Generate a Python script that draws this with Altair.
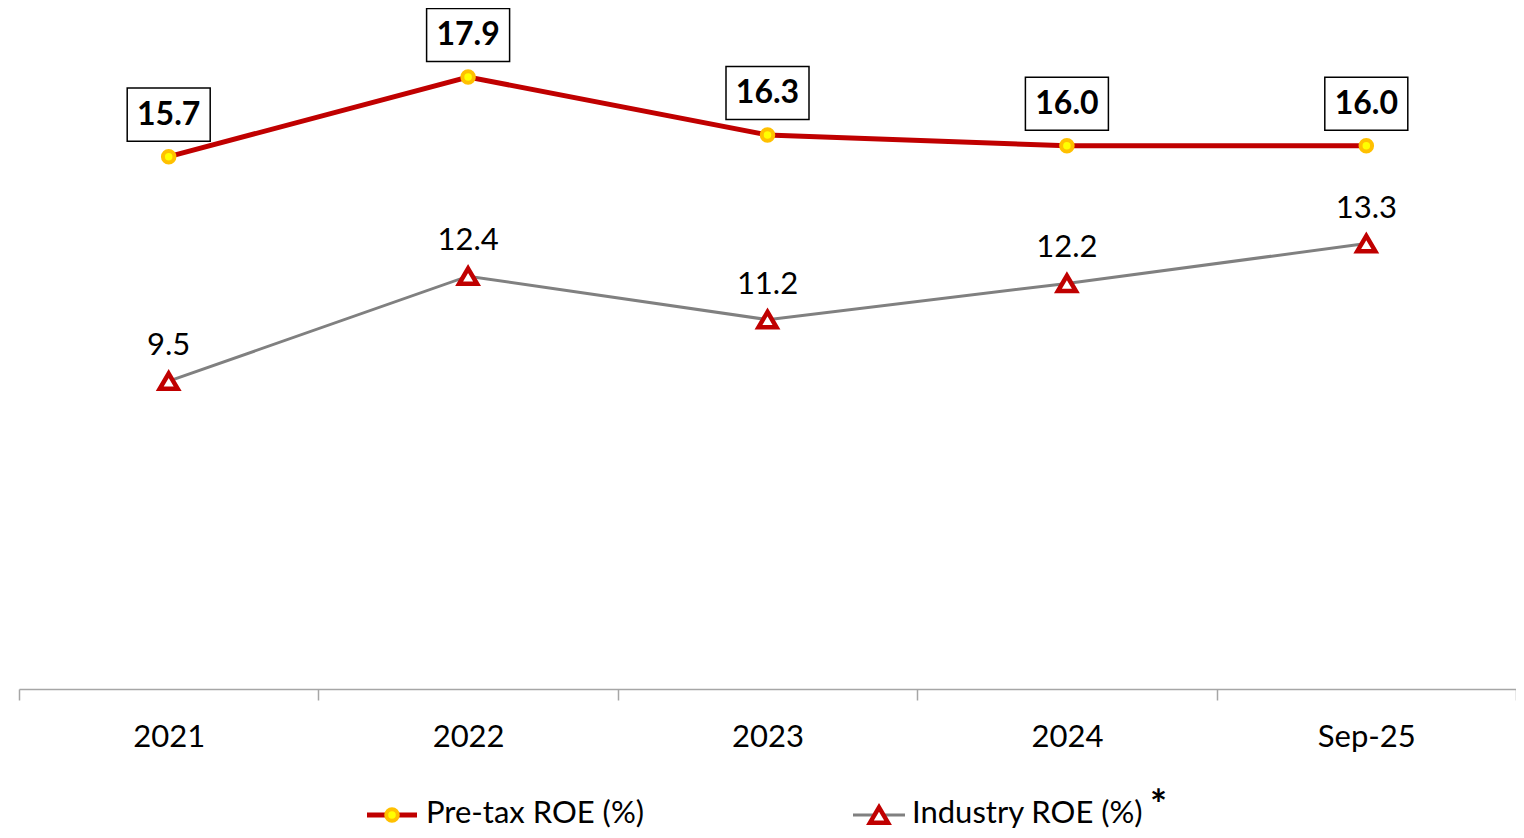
import altair as alt
import pandas as pd

categories = ["2021", "2022", "2023", "2024", "Sep-25"]
pretax_roe = [15.7, 17.9, 16.3, 16.0, 16.0]
industry_roe = [9.5, 12.4, 11.2, 12.2, 13.3]

FONT = "Lato"
RED = "#C00000"
GRAY = "#808080"

df = pd.DataFrame({"cat": categories, "pretax": pretax_roe, "industry": industry_roe})
df["pretax_lbl"] = [f"{v:.1f}" for v in pretax_roe]
df["industry_lbl"] = [f"{v:.1f}" for v in industry_roe]

x = alt.X("cat:N", sort=categories, title=None,
          scale=alt.Scale(paddingInner=0, paddingOuter=0),
          axis=alt.Axis(labelAngle=0, tickBand="extent", domainColor="#A6A6A6",
                        tickColor="#A6A6A6", domainWidth=1.5, tickWidth=1.5, tickSize=11,
                        labelFont=FONT, labelFontSize=31, labelColor="#000000",
                        labelPadding=22, labelBaseline="top"))
yscale = alt.Scale(domain=[1, 19.75], zero=False, nice=False)
y_p = alt.Y("pretax:Q", scale=yscale, axis=None)
y_i = alt.Y("industry:Q", scale=yscale, axis=None)

base = alt.Chart(df)

tri = "M0,-0.85L1,0.85L-1,0.85Z"
box = "M-1,-0.64L1,-0.64L1,0.64L-1,0.64Z"

gray_line = base.mark_line(color=GRAY, strokeWidth=3).encode(x=x, y=y_i)
gray_pts = base.mark_point(shape=tri, size=324, filled=True, fill="white", stroke=RED,
                           strokeWidth=4.5, opacity=1).encode(x=x, y=y_i)
gray_txt = base.mark_text(font=FONT, fontSize=31, dy=-35, baseline="middle",
                          color="black").encode(x=x, y=y_i, text="industry_lbl:N")

red_line = base.mark_line(color=RED, strokeWidth=5).encode(x=x, y=y_p)
red_pts = base.mark_point(shape="circle", size=133, filled=True, fill="#FFFF00",
                          stroke="#FFC000", strokeWidth=4, opacity=1).encode(x=x, y=y_p)
red_box = base.mark_point(shape=box, size=6889, filled=True, fill="white", stroke="black",
                          strokeWidth=1.5, opacity=1, yOffset=-42).encode(x=x, y=y_p)
red_txt = base.mark_text(font=FONT, fontSize=32, fontWeight="bold", dy=-42,
                         baseline="middle", color="black").encode(x=x, y=y_p, text="pretax_lbl:N")

one = alt.Data(values=[{"a": 1}])
LY = 804
leg = [
    alt.Chart(one).mark_rule(color=RED, strokeWidth=5).encode(
        x=alt.value(348), x2=alt.value(398), y=alt.value(LY + 1)),
    alt.Chart(one).mark_point(shape="circle", size=133, filled=True, fill="#FFFF00",
                              stroke="#FFC000", strokeWidth=4, opacity=1).encode(
        x=alt.value(373), y=alt.value(LY + 1)),
    alt.Chart(one).mark_text(font=FONT, fontSize=31, align="left", baseline="middle",
                             color="black", text="Pre-tax ROE (%)").encode(
        x=alt.value(407), y=alt.value(LY)),
    alt.Chart(one).mark_rule(color=GRAY, strokeWidth=3).encode(
        x=alt.value(834), x2=alt.value(886), y=alt.value(LY + 1)),
    alt.Chart(one).mark_point(shape=tri, size=324, filled=True, fill="white", stroke=RED,
                              strokeWidth=4.5, opacity=1).encode(
        x=alt.value(860), y=alt.value(LY + 1)),
    alt.Chart(one).mark_text(font=FONT, fontSize=31, align="left", baseline="middle",
                             color="black", text="Industry ROE (%)").encode(
        x=alt.value(893), y=alt.value(LY)),
    alt.Chart(one).mark_text(font=FONT, fontSize=40, fontWeight="bold", align="left",
                             baseline="top", color="black", text="*").encode(
        x=alt.value(1131), y=alt.value(777)),
]

chart = alt.layer(gray_line, gray_pts, gray_txt, red_line, red_pts, red_box, red_txt,
                  *leg).properties(
    width=1497, height=679,
    autosize=alt.AutoSizeParams(type="none"),
    padding={"left": 11, "top": 2, "right": 0, "bottom": 141},
).configure_view(stroke=None)

chart.save("out.html", embed_options={"renderer": "svg", "actions": False})
